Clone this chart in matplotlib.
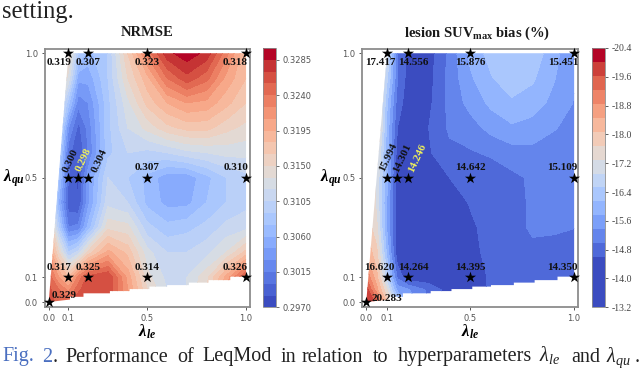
import numpy as np
import matplotlib
matplotlib.use("Agg")
import matplotlib.pyplot as plt
from matplotlib.patches import Polygon

plt.rcParams['mathtext.fontset'] = 'custom'
plt.rcParams['mathtext.rm'] = 'Liberation Serif'
plt.rcParams['mathtext.it'] = 'Liberation Serif:italic'
plt.rcParams['mathtext.bf'] = 'Liberation Serif:bold'
plt.rcParams['mathtext.bfit'] = 'Liberation Serif:italic:bold'

# grid the surfaces were read on
grid_x = [0, .05, .1, .15, .2, .3, .4, .5, .6, .7, .8, .9, 1]
grid_y = [0, .05, .1, .2, .3, .4, .5, .6, .7, .8, .9, 1]

nrmse = [
    [.326, .325, .325, .327, .327, .326, .322, .317, .313, .312, .315, .320, .326],
    [.326, .324, .322, .325, .327, .327, .321, .315, .312, .312, .315, .321, .327],
    [.325, .321, .318, .323, .326, .327, .3205, .314, .3115, .312, .3145, .320, .326],
    [.321, .315, .309, .311, .3155, .320, .3175, .3125, .3105, .3105, .3115, .3135, .317],
    [.318, .309, .3015, .302, .3065, .3145, .314, .3095, .308, .3085, .3095, .311, .3115],
    [.316, .306, .299, .2985, .304, .3115, .3105, .307, .3055, .3055, .3075, .309, .310],
    [.316, .308, .300, .298, .304, .3105, .309, .307, .305, .305, .307, .309, .310],
    [.316, .310, .3005, .2985, .3015, .3085, .3105, .310, .3105, .3115, .312, .3125, .3125],
    [.316, .312, .303, .2995, .302, .3085, .312, .3140, .3160, .3170, .3170, .3155, .3145],
    [.317, .314, .308, .302, .303, .3085, .3130, .3170, .3195, .3210, .3205, .3185, .3165],
    [.318, .316, .313, .305, .305, .309, .3150, .3190, .3240, .3265, .3245, .3205, .318],
    [.319, .317, .315, .309, .307, .309, .3165, .3230, .3280, .3295, .3280, .3230, .318],
]

bias = [
    [20.0, 19.5, 18.0, 16.5, 15.8, 15.0, 14.5, 14.45, 14.7, 14.7, 14.7, 14.7, 14.7],
    [19.8, 18.6, 17.3, 15.6, 15.4, 14.9, 14.4, 14.4, 14.65, 14.7, 14.7, 14.7, 14.7],
    [19.2, 18.2, 16.6, 14.9, 14.3, 14.3, 14.35, 14.4, 14.65, 14.7, 14.7, 14.7, 14.7],
    [18.4, 17.8, 16.0, 14.3, 14.1, 14.2, 14.3, 14.5, 14.7, 14.85, 14.9, 14.85, 14.8],
    [18.0, 17.4, 15.7, 14.3, 14.15, 14.25, 14.4, 14.55, 14.7, 14.85, 15.05, 15.05, 15.0],
    [18.0, 17.2, 15.7, 14.3, 14.2, 14.3, 14.45, 14.62, 14.7, 14.85, 15.05, 15.1, 15.1],
    [18.0, 17.2, 15.9, 14.3, 14.25, 14.4, 14.6, 14.65, 14.75, 14.9, 15.05, 15.1, 15.1],
    [18.0, 17.5, 15.9, 14.4, 14.25, 14.55, 14.9, 14.95, 15.05, 15.2, 15.25, 15.2, 15.15],
    [18.0, 18.0, 16.0, 14.6, 14.3, 14.6, 15.05, 15.2, 15.5, 15.7, 15.6, 15.4, 15.25],
    [18.0, 18.0, 16.2, 14.8, 14.4, 14.5, 15.1, 15.5, 15.85, 16.05, 15.95, 15.65, 15.35],
    [18.0, 18.0, 16.6, 15.0, 14.45, 14.45, 15.1, 15.7, 16.1, 16.45, 16.2, 15.8, 15.4],
    [18.0, 18.0, 17.0, 15.0, 14.5, 14.4, 15.1, 15.85, 16.3, 16.5, 16.4, 15.9, 15.45],
]

# edge of the filled area
edge_x = [0, .108, .108, .176, .176, .31, .31, .41, .41, .51, .51, .6, .6, .71, .71, .81, .81, .92, .92, 1, 1, .1]
edge_y = [0, .01, .021, .021, .035, .035, .044, .044, .052, .052, .062, .062, .068, .068, .078, .078, .088, .088, .102, .102, 1, 1]

# sampled hyperparameter settings
star_x = [0, .1, .2, .5, 1, .1, .15, .2, .5, 1, .1, .2, .5, 1]
star_y = [0, .1, .1, .1, .1, .5, .5, .5, .5, .5, 1, 1, 1, 1]
nrmse_labels = ['0.329', '0.317', '0.325', '0.314', '0.326', '0.300', '0.298', '0.304',
                '0.307', '0.310', '0.319', '0.307', '0.323', '0.318']
bias_labels = ['20.283', '16.620', '14.264', '14.395', '14.350', '15.994', '14.301', '14.246',
               '14.642', '15.109', '17.417', '14.556', '15.876', '15.451']

nrmse_levels = np.arange(0.297, 0.3301, 0.0015)
bias_levels = [13.2, 14.6, 14.99, 15.37, 15.76, 16.14, 16.53, 16.91, 17.3, 17.69, 18.07,
               18.46, 18.84, 19.23, 19.61, 20.0, 20.4]
nrmse_ticks = [.2970, .3015, .3060, .3105, .3150, .3195, .3240, .3285]
bias_ticks = [13.2, 14.0, 14.8, 15.6, 16.4, 17.2, 18.0, 18.8, 19.6, 20.4]

# label offsets from the star, in pixels
nrmse_off = [(15, 7), (-9, 10), (0, 10), (0, 10), (-11, 10), (2, 17), (5, 18), (11, 17),
             (0, 10), (-10, 10), (-9, -9), (0, -9), (0, -9), (-11, -9)]
bias_off = [(21, 4), (-8, 10), (6, 10), (0, 10), (-12, 10), (1, 20), (5, 20), (10, 20),
            (0, 10), (-12, 10), (-7, -9), (5, -9), (0, -9), (-11, -9)]

W, H = 640, 369
SERIF = 'Liberation Serif'
GRAY = '#8c8c8c'


def px_axes(fig, x0, x1, y0, y1):
    # pixel box, y measured from the top of the image
    return fig.add_axes([x0 / W, 1 - y1 / H, (x1 - x0) / W, (y1 - y0) / H])


def panel(fig, box, cbox, field, levels, labels, offs, yellow, title, title_x, xlim):
    ax = px_axes(fig, *box)
    colors = plt.cm.coolwarm(np.linspace(0, 1, len(levels) - 1))
    cs = ax.contourf(grid_x, grid_y, np.array(field), levels=levels, colors=colors)
    cs.set_clip_path(Polygon(np.column_stack([edge_x, edge_y]), transform=ax.transData))
    ax.scatter(star_x, star_y, marker='*', s=70, color='black', linewidths=0, zorder=3, clip_on=False)
    for i, lab in enumerate(labels):
        rot = 65 if 5 <= i <= 7 else 0
        ax.annotate(lab, (star_x[i], star_y[i]), xytext=offs[i], textcoords='offset pixels',
                    ha='center', va='center', rotation=rot, rotation_mode='anchor',
                    family=SERIF, weight='bold', fontsize=8,
                    color='#f2f25a' if i == yellow else '#111111', zorder=4)
    ax.set_xlim(*xlim)
    ax.set_ylim(-0.02, 1.017)
    ax.set_xticks([0, .1, .5, 1], ['0.0', '0.1', '0.5', '1.0'])
    ax.set_yticks([0, .1, .5, 1], ['0.0', '0.1', '0.5', '1.0'])
    ax.tick_params(labelsize=6, colors='#555555', length=2.5, width=0.7, pad=2.5)
    for s in ax.spines.values():
        s.set_color(GRAY)
        s.set_linewidth(1.3)
    ax.set_xlabel(r'$\mathbfit{\lambda_{le}}$', fontsize=12, labelpad=0)
    ax.set_ylabel(r'$\mathbfit{\lambda_{qu}}$', fontsize=12, rotation=0, va='center', labelpad=8)
    fig.text(title_x / W, 1 - 33 / H, title, ha='center', va='center', family=SERIF,
             weight='bold', fontsize=10.5, color='#1a1a1a')

    cax = px_axes(fig, *cbox)
    cb = fig.colorbar(cs, cax=cax, spacing='proportional')
    cb.outline.set_edgecolor(GRAY)
    cb.outline.set_linewidth(0.6)
    return cb


fig = plt.figure(figsize=(W / 100, H / 100), dpi=100)

cb = panel(fig, (45, 250, 49, 307), (262.5, 276, 48, 307.3), nrmse, nrmse_levels, nrmse_labels,
           nrmse_off, 6, 'NRMSE', 147, (-0.019, 1.02))
cb.set_ticks(nrmse_ticks, labels=['%.4f' % t for t in nrmse_ticks])
cb.ax.tick_params(labelsize=6, colors='#555555', length=2, width=0.6, pad=3)

cb = panel(fig, (362.3, 578.3, 49, 307), (592, 605, 48, 307.3), bias, bias_levels, bias_labels,
           bias_off, 7, r'lesion SUV$_{\mathbf{max}}$ bias (%)', 477, (-0.019, 1.02))
cb.set_ticks(bias_ticks, labels=['-%.1f' % t for t in bias_ticks], family=SERIF)
cb.ax.tick_params(labelsize=7, colors='#444444', length=2, width=0.6, pad=3)

# surrounding text from the paper
fig.text(2 / W, 1 - 18 / H, 'setting.', family=SERIF, fontsize=17.7, color='#222222')
caption = [(2, 'Fig.', '#4a6fc0'), (41.7, '2', '#4a6fc0'), (52.5, '.', '#222222'),
           (65, 'Performance', '#222222'), (177, 'of', '#222222'), (202, 'LeqMod', '#222222'),
           (281, 'in', '#222222'), (302, 'relation', '#222222'), (373, 'to', '#222222'),
           (398, 'hyperparameters', '#222222'), (539, r'$\lambda_{le}$', '#222222'),
           (571, 'and', '#222222'), (606, r'$\lambda_{qu}$', '#222222'), (635, '.', '#222222')]
for x, word, col in caption:
    fig.text(x / W, 1 - 361.5 / H, word, family=SERIF, fontsize=14.5, color=col)

fig.savefig('out.png', dpi=100)
